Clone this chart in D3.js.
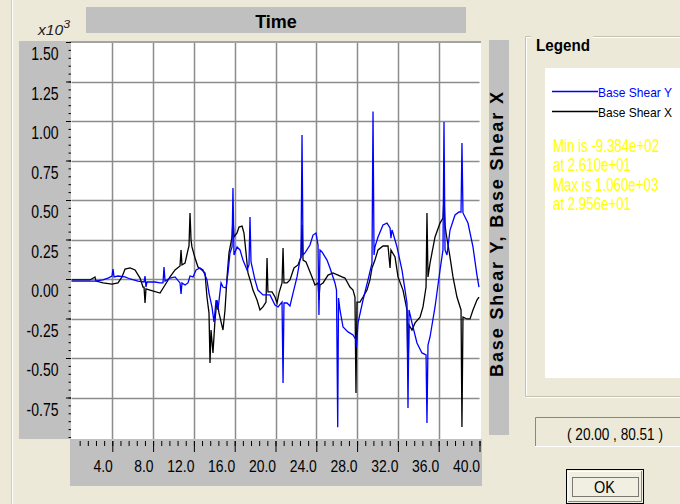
<!DOCTYPE html>
<meta charset="utf-8">
<style>
body { margin: 0; background: #ece9d8; font-family: "Liberation Sans", Arial, Helvetica, sans-serif; }
svg { display: block; }
</style>
<body>
<script src="https://cdnjs.cloudflare.com/ajax/libs/d3/7.8.5/d3.min.js"></script>
<script>

// [time, base shear (x10^3)]
var baseShearY = [
  [0,-0.013],[0.83,-0.013],[2.30,-0.013],[3.09,-0.006],[3.58,0.006],[3.97,0.019],[4.07,0.063],[4.17,0.013],
  [4.56,0.019],[5.25,0.013],[5.74,0],[6.52,-0.013],[7.11,-0.019],[7.21,0.019],[7.30,-0.051],[7.40,-0.019],
  [8.19,-0.019],[8.68,-0.025],[8.97,-0.025],[9.07,0.076],[9.17,-0.013],[9.66,0.006],[10.15,0.013],[10.64,-0.025],
  [10.74,-0.095],[10.83,-0.025],[11.13,-0.038],[11.42,-0.025],[11.62,0.019],[11.91,0.013],[12.21,0.057],[12.60,0.070],
  [12.89,0.057],[13.28,-0.006],[13.48,-0.089],[13.77,-0.177],[13.97,-0.272],[14.17,-0.133],[14.36,-0.196],[14.66,-0.025],
  [14.85,-0.051],[15.15,-0.057],[15.34,0.038],[15.54,0.165],[15.74,0.203],[15.83,0.576],[15.93,0.152],[16.23,0.203],
  [16.52,0.184],[16.81,0.120],[17.21,0.057],[17.40,0.089],[17.50,0.392],[17.60,0.108],[17.99,-0.006],[18.28,-0.070],
  [18.77,-0.101],[19.46,-0.101],[19.95,-0.165],[20.25,-0.177],[20.64,-0.146],[20.74,-0.658],[20.83,-0.152],[21.13,-0.152],
  [21.42,-0.171],[21.72,-0.089],[22.11,0.013],[22.40,0.120],[22.50,0.139],[22.60,0.911],[22.70,0.152],[22.89,0.165],
  [23.38,0.215],[23.68,0.278],[23.97,0.291],[24.17,0.215],[24.26,-0.228],[24.36,0.184],[24.56,0.171],[25.05,0.120],
  [25.34,0.070],[25.83,-0.025],[25.98,-0.070],[26.10,-0.938],[26.18,-0.120],[26.32,-0.196],[26.62,-0.304],[27.11,-0.335],
  [27.60,-0.354],[27.89,-0.386],[27.94,-0.430],[28.09,-0.278],[28.58,-0.133],[29.07,-0.006],[29.46,0.101],[29.56,1.060],
  [29.66,0.152],[29.75,0.203],[30.05,0.266],[30.54,0.342],[30.93,0.354],[31.23,0.323],[31.32,0.259],[31.42,0.310],
  [31.52,0.291],[31.91,0.203],[32.40,0.057],[32.70,-0.070],[32.89,-0.152],[32.99,-0.816],[33.09,-0.196],[33.38,-0.278],
  [33.87,-0.405],[34.36,-0.468],[34.76,-0.481],[34.85,-0.911],[34.95,-0.418],[35.15,-0.367],[35.64,-0.177],[36.13,0.057],
  [36.42,0.184],[36.52,0.994],[36.62,0.184],[36.81,0.152],[37.11,0.310],[37.60,0.405],[37.99,0.424],[38.19,0.424],
  [38.28,0.861],[38.38,0.418],[38.87,0.354],[39.36,0.203],[39.75,0.025],[39.95,-0.051]
];

var baseShearX = [
  [0,-0.006],[1.81,-0.006],[2.30,0.013],[2.40,-0.013],[3.09,-0.025],[3.97,-0.032],[4.56,-0.025],[4.95,0.013],
  [5.25,0.063],[5.74,0.070],[6.23,0.057],[6.72,0.006],[7.01,-0.051],[7.11,-0.051],[7.21,-0.152],[7.30,-0.063],
  [7.70,-0.070],[8.68,-0.089],[9.17,-0.038],[9.66,0.013],[10.15,0.057],[10.64,0.082],[10.74,0.184],[10.83,0.089],
  [11.13,0.101],[11.42,0.184],[11.52,0.209],[11.62,0.418],[11.72,0.247],[11.81,0.203],[12.11,0.133],[12.40,0.076],
  [12.79,0.057],[13.09,0.038],[13.28,-0.114],[13.48,-0.215],[13.58,-0.532],[13.68,-0.323],[13.87,-0.468],[14.07,-0.259],
  [14.26,-0.133],[14.46,-0.215],[14.85,-0.323],[15.05,-0.196],[15.25,0.013],[15.44,0.165],[15.74,0.266],[15.83,0.392],
  [15.93,0.266],[16.23,0.291],[16.42,0.329],[16.72,0.335],[16.91,0.291],[17.11,0.165],[17.30,0.038],[17.60,-0.025],
  [17.79,-0.070],[18.19,-0.133],[18.48,-0.196],[18.77,-0.177],[19.07,-0.146],[19.17,0.133],[19.26,-0.082],[19.66,-0.082],
  [19.95,-0.114],[20.15,-0.152],[20.34,-0.089],[20.64,-0.025],[20.74,0.196],[20.83,-0.025],[21.13,-0.025],[21.42,-0.006],
  [21.81,0.070],[22.21,0.089],[22.50,0.139],[22.60,0.342],[22.70,0.120],[22.99,0.108],[23.19,0.076],[23.58,0.013],
  [23.87,-0.038],[24.17,-0.025],[24.26,-0.133],[24.36,-0.038],[24.66,-0.025],[25.15,0.025],[25.64,0.038],[26.13,0.025],
  [26.52,0.013],[26.81,0.006],[27.30,-0.051],[27.60,-0.070],[27.79,-0.114],[27.89,-0.722],[27.99,-0.146],[28.28,-0.146],
  [28.58,-0.114],[28.97,-0.070],[29.26,-0.006],[29.46,0.070],[29.75,0.120],[30.05,0.184],[30.54,0.209],[31.03,0.209],
  [31.23,0.070],[31.32,0.184],[31.72,0.139],[32.01,0.013],[32.50,-0.070],[32.89,-0.196],[32.99,-0.620],[33.09,-0.291],
  [33.38,-0.323],[33.68,-0.278],[34.17,-0.241],[34.46,-0.177],[34.76,-0.051],[34.85,0.418],[34.95,0.013],[35.15,0.101],
  [35.64,0.266],[36.13,0.354],[36.42,0.386],[36.52,0.519],[36.62,0.342],[36.72,0.291],[37.11,0.139],[37.40,0.013],
  [37.79,-0.114],[38.19,-0.196],[38.28,-0.937],[38.38,-0.241],[38.77,-0.253],[39.07,-0.253],[39.36,-0.196],[39.75,-0.133],
  [39.95,-0.114]
];

var xTicks = [4, 8, 12, 16, 20, 24, 28, 32, 36, 40];
var xTickLabels = ["4.0", "8.0", "12.0", "16.0", "20.0", "24.0", "28.0", "32.0", "36.0", "40.0"];
var yTicks = [-0.75, -0.5, -0.25, 0, 0.25, 0.5, 0.75, 1.0, 1.25, 1.5];
var yTickLabels = ["-0.75", "-0.50", "-0.25", "0.00", "0.25", "0.50", "0.75", "1.00", "1.25", "1.50"];
var seriesNames = ["Base Shear Y", "Base Shear X"];
var seriesColors = ["#0000ff", "#000000"];
var statLines = ["Min is -9.384e+02", "at 2.610e+01", "Max is 1.060e+03", "at 2.956e+01"];
var cursorText = "( 20.00 , 80.51 )";

var svg = d3.select("body").append("svg")
    .attr("width", 680)
    .attr("height", 504);

svg.append("rect").attr("width", 680).attr("height", 504).attr("fill", "#ece9d8");

// etched frame at the left
svg.append("line").attr("x1", 11.5).attr("x2", 11.5).attr("y1", 0).attr("y2", 504).attr("stroke", "#cfccbc");
svg.append("line").attr("x1", 12.5).attr("x2", 12.5).attr("y1", 0).attr("y2", 504).attr("stroke", "#ffffff");

var x = d3.scaleLinear().domain([0, 40]).range([71.5, 479.5]);
var y = d3.scaleLinear().domain([-1, 1.5]).range([437, 42]);

// grey panels
svg.append("rect").attr("x", 86).attr("y", 7).attr("width", 380).attr("height", 26).attr("fill", "#c0c0c0");
svg.append("rect").attr("x", 19).attr("y", 41).attr("width", 52).attr("height", 398).attr("fill", "#c0c0c0");
svg.append("rect").attr("x", 70).attr("y", 439).attr("width", 412).attr("height", 47).attr("fill", "#c0c0c0");
svg.append("rect").attr("x", 489).attr("y", 40).attr("width", 20).attr("height", 395).attr("fill", "#c0c0c0");

// title
svg.append("text")
    .attr("x", 276).attr("y", 28)
    .attr("text-anchor", "middle")
    .style("font-weight", "bold").style("font-size", "18px")
    .text("Time");

// exponent
var expo = svg.append("text")
    .attr("x", 38).attr("y", 35)
    .style("font-style", "italic").style("font-size", "14px")
    .attr("fill", "#222")
    .attr("textLength", 32).attr("lengthAdjust", "spacingAndGlyphs");
expo.append("tspan").text("x10");
expo.append("tspan").attr("dy", -7).style("font-size", "11px").text("3");

// side label
svg.append("text")
    .attr("transform", "translate(503,234.5) rotate(-90)")
    .attr("text-anchor", "middle")
    .style("font-weight", "bold").style("font-size", "18px")
    .attr("textLength", 285).attr("lengthAdjust", "spacing")
    .text("Base Shear Y, Base Shear X");

// plot area
svg.append("rect").attr("x", 71).attr("y", 42).attr("width", 410).attr("height", 397).attr("fill", "#ffffff");

svg.append("clipPath").attr("id", "clip")
  .append("rect").attr("x", 71).attr("y", 42).attr("width", 410).attr("height", 397);

// grid
svg.append("g").selectAll("line")
    .data(xTicks.filter(function(d) { return d < 40; }))
  .enter().append("line")
    .attr("x1", function(d) { return Math.round(x(d)) + 0.5; })
    .attr("x2", function(d) { return Math.round(x(d)) + 0.5; })
    .attr("y1", 42).attr("y2", 439)
    .attr("stroke", "#8c8c8c").attr("stroke-width", 1.5);

svg.append("g").selectAll("line")
    .data(yTicks.filter(function(d) { return d < 1.5; }))
  .enter().append("line")
    .attr("x1", x(0)).attr("x2", x(40))
    .attr("y1", function(d) { return Math.round(y(d)) + 0.5; })
    .attr("y2", function(d) { return Math.round(y(d)) + 0.5; })
    .attr("stroke", "#8c8c8c").attr("stroke-width", 1.5);

svg.append("rect").attr("x", 70).attr("y", 41).attr("width", 411).attr("height", 2).attr("fill", "#a4a4a4");

// the two lines
var line = d3.line()
    .x(function(d) { return x(d[0]); })
    .y(function(d) { return y(d[1]); });

var lines = svg.append("g").attr("clip-path", "url(#clip)");
lines.append("path").datum(baseShearX)
    .attr("fill", "none").attr("stroke", seriesColors[1]).attr("stroke-width", 1.3)
    .attr("d", line);
lines.append("path").datum(baseShearY)
    .attr("fill", "none").attr("stroke", seriesColors[0]).attr("stroke-width", 1.3)
    .attr("d", line);

// y axis
svg.append("g")
    .attr("transform", "translate(71,0)")
    .call(d3.axisLeft(y).tickValues(d3.range(-1, 1.501, 0.05)).tickSize(2.5).tickFormat(""))
    .call(function(g) { g.select(".domain").remove(); });

var yAxis = svg.append("g")
    .attr("transform", "translate(71,0)")
    .call(d3.axisLeft(y).tickValues(yTicks).tickSize(5)
        .tickFormat(function(d, i) { return yTickLabels[i]; }));
yAxis.select(".domain").remove();
yAxis.selectAll("text")
    .attr("x", -12.5 / 0.78).attr("y", 18).attr("dy", null)
    .attr("transform", "scale(0.78,1)")
    .style("font-family", "'Liberation Sans', Arial, sans-serif")
    .style("font-size", "18px").attr("fill", "#000");
svg.selectAll(".tick line").attr("stroke", "#000");

// x axis
svg.append("g")
    .attr("transform", "translate(0,441)")
    .call(d3.axisBottom(x).tickValues(d3.range(0.8, 40.01, 0.8)).tickSize(5).tickFormat(""))
    .call(function(g) { g.select(".domain").remove(); });

var xAxis = svg.append("g")
    .attr("transform", "translate(0,441)")
    .call(d3.axisBottom(x).tickValues(xTicks).tickSize(11)
        .tickFormat(function(d, i) { return xTickLabels[i]; }));
xAxis.select(".domain").remove();
xAxis.selectAll("text")
    .attr("x", 0).attr("y", 31).attr("dy", null)
    .attr("text-anchor", "end")
    .attr("transform", "scale(0.82,1)")
    .style("font-family", "'Liberation Sans', Arial, sans-serif")
    .style("font-size", "17px").attr("fill", "#000");
svg.selectAll(".tick line").attr("stroke", "#000");

// legend group box
var gb = svg.append("g");
gb.append("path")
    .attr("d", "M531,36.5H525.5V396.5H680M593,36.5H680")
    .attr("fill", "none").attr("stroke", "#c5c2b2");
gb.append("path")
    .attr("d", "M531,37.5H526.5V395.5M526.5,397.5H680M593,37.5H680")
    .attr("fill", "none").attr("stroke", "#ffffff");
gb.append("text")
    .attr("x", 536).attr("y", 50.5)
    .style("font-weight", "bold").style("font-size", "17px")
    .attr("textLength", 54).attr("lengthAdjust", "spacingAndGlyphs")
    .text("Legend");

svg.append("rect").attr("x", 545).attr("y", 68).attr("width", 140).attr("height", 310).attr("fill", "#ffffff");

var leg = svg.append("g").selectAll("g")
    .data(seriesNames)
  .enter().append("g")
    .attr("transform", function(d, i) { return "translate(0," + (i * 20) + ")"; });
leg.append("line")
    .attr("x1", 552).attr("x2", 598).attr("y1", 91.5).attr("y2", 91.5)
    .attr("stroke", function(d, i) { return seriesColors[i]; }).attr("stroke-width", 1.3);
leg.append("text")
    .attr("x", 598).attr("y", 96.5)
    .style("font-size", "13.5px")
    .attr("textLength", 74).attr("lengthAdjust", "spacingAndGlyphs")
    .attr("fill", function(d, i) { return seriesColors[i]; })
    .text(function(d) { return d; });

svg.append("g").selectAll("text")
    .data(statLines)
  .enter().append("text")
    .attr("transform", function(d, i) { return "translate(553," + (151.5 + i * 19.6) + ") scale(0.76,1)"; })
    .style("font-size", "17.5px")
    .attr("fill", "#ffff00")
    .text(function(d) { return d; });

// cursor readout
svg.append("rect").attr("x", 535).attr("y", 417).attr("width", 150).attr("height", 29).attr("fill", "#ece9d8");
svg.append("path").attr("d", "M535.5,446V417.5H680").attr("fill", "none").attr("stroke", "#8a887c");
svg.append("path").attr("d", "M535,446.5H680").attr("fill", "none").attr("stroke", "#ffffff");
svg.append("text")
    .attr("transform", "translate(615,440) scale(0.85,1)")
    .attr("text-anchor", "middle")
    .style("font-size", "16px")
    .text(cursorText);

// OK button
svg.append("rect").attr("x", 566.5).attr("y", 469.5).attr("width", 77).attr("height", 34)
    .attr("fill", "#f1efe2").attr("stroke", "#000");
svg.append("path").attr("d", "M568,502V471.5H642").attr("fill", "none").attr("stroke", "#ffffff");
svg.append("path").attr("d", "M568,501.5H641.5V471").attr("fill", "none").attr("stroke", "#8a887c");
svg.append("rect").attr("x", 572.5).attr("y", 477.5).attr("width", 66).attr("height", 19)
    .attr("fill", "none").attr("stroke", "#000").attr("stroke-dasharray", "1,1");
svg.append("text")
    .attr("transform", "translate(604.5,493) scale(0.85,1)")
    .attr("text-anchor", "middle")
    .style("font-size", "17px")
    .text("OK");

</script>
</body>
